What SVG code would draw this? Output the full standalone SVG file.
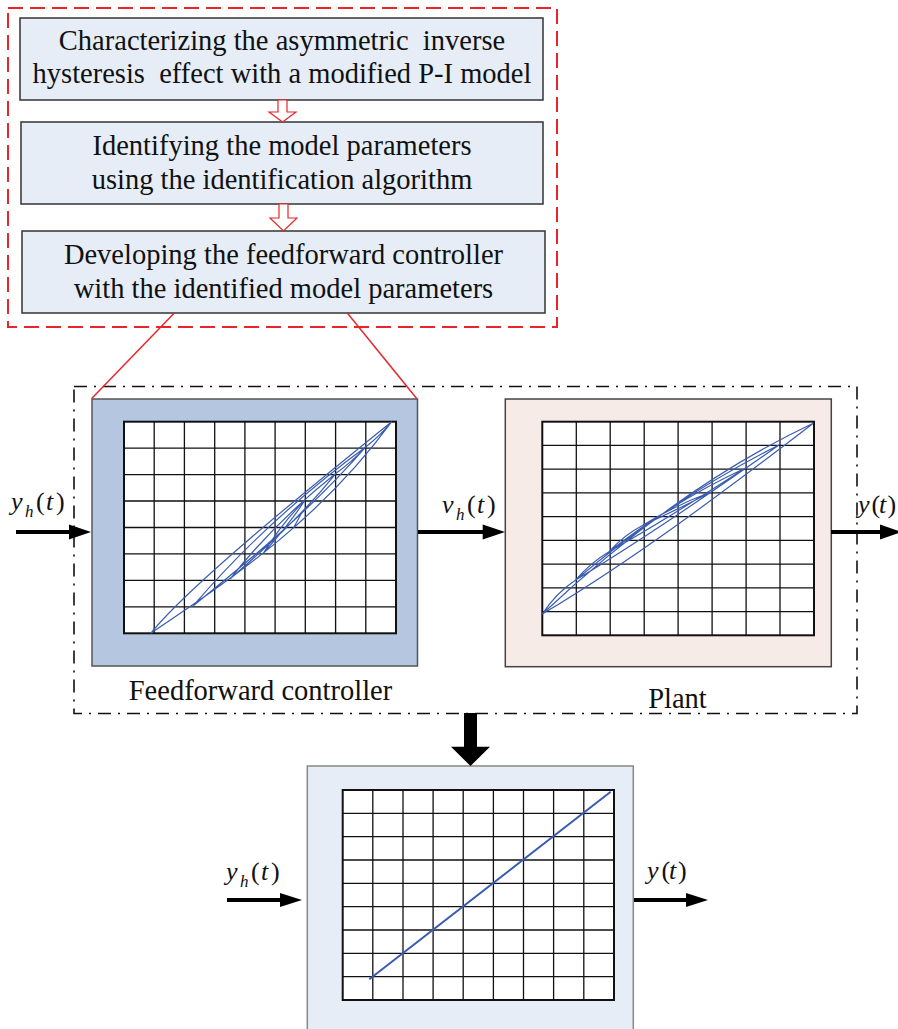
<svg xmlns="http://www.w3.org/2000/svg" width="898" height="1029" viewBox="0 0 898 1029">
<defs>
<style>
.step{fill:#e6edf6;stroke:#333;stroke-width:1.5}
.st{font-family:"Liberation Serif","Times New Roman",serif;font-size:28.5px;fill:#111;text-anchor:middle;white-space:pre}
.lbl{font-family:"Liberation Serif","Times New Roman",serif;font-size:28.5px;fill:#111}
.math{font-family:"Liberation Serif","Times New Roman",serif;font-size:26px;fill:#111}
.it{font-style:italic}
.sub{font-style:italic;font-size:17px}
.grid{fill:none;stroke:#111;stroke-width:1.3}
.gbox{fill:#fff;stroke:#111;stroke-width:2}
.hyst{fill:none;stroke:#3a5caf;stroke-width:1.2}
.hollow{fill:#fff;stroke:#e8262a;stroke-width:1.2}
.red{stroke:#e8262a;stroke-width:1.5;fill:none}
.arr{stroke:#000;stroke-width:4;fill:none}
.head{fill:#000}
</style>
</defs>
<rect width="898" height="1029" fill="#fff"/>

<!-- red dashed frame -->
<rect x="8" y="8" width="549" height="319" fill="none" stroke="#e8262a" stroke-width="2" stroke-dasharray="15 7"/>

<g id="step1">
<rect class="step" x="20" y="18" width="523" height="82"/>
<text class="st" x="282" y="50">Characterizing the asymmetric  inverse</text>
<text class="st" x="282" y="83">hysteresis  effect with a modified P-I model</text>
</g>
<g id="step2">
<rect class="step" x="21" y="122" width="522" height="82"/>
<text class="st" x="282" y="155">Identifying the model parameters</text>
<text class="st" x="282" y="189">using the identification algorithm</text>
</g>
<g id="step3">
<rect class="step" x="22" y="231" width="523" height="82"/>
<text class="st" x="283.5" y="264">Developing the feedforward controller</text>
<text class="st" x="283.5" y="298">with the identified model parameters</text>
</g>

<!-- dash-dot frame -->
<rect x="74" y="386.5" width="783" height="327" fill="none" stroke="#111" stroke-width="1.6" stroke-dasharray="13 7 2 7"/>

<g id="feedforward">
<rect x="92" y="399" width="325.5" height="267" fill="#b4c6e0" stroke="#555" stroke-width="1.5"/>
<rect class="gbox" x="124" y="421.7" width="272" height="211.6"/>
<path class="grid" d="M154.2 421.7V633.3M184.4 421.7V633.3M214.7 421.7V633.3M244.9 421.7V633.3M275.1 421.7V633.3M305.3 421.7V633.3M335.6 421.7V633.3M365.8 421.7V633.3M124 448.1H396M124 474.6H396M124 501H396M124 527.5H396M124 553.9H396M124 580.4H396M124 606.8H396"/>
<path class="hyst" d="M150.7 633.3C230 580 320 520 391.7 421.7M150.7 633.3C190 585 307 490 391.7 421.7M193.3 605.7C250.3 559.6 310.7 510.3 366 446.7M193.3 605.7C245.1 545.3 305.6 491.2 366 446.7M230 579C265 548.3 302.1 515.6 336 473.3M230 579C261.8 538.8 298.9 502.9 336 473.3M263.3 553.3C277.1 537.8 291.7 521.3 305 500M263.3 553.3C275.8 533 290.4 514.9 305 500M366 446.7Q380 436 391.7 421.7M336 473.3Q352 462 366 446.7M293.3 528.3Q298 520 302 512"/>
<text class="lbl" x="260.5" y="700" text-anchor="middle">Feedforward controller</text>
</g>

<g id="plant">
<rect x="505.3" y="399" width="326" height="267.7" fill="#f6ebe6" stroke="#444" stroke-width="1.5"/>
<rect class="gbox" x="542.3" y="421.7" width="271.7" height="213.6"/>
<path class="grid" d="M576.3 421.7V635.3M610.2 421.7V635.3M644.2 421.7V635.3M678.1 421.7V635.3M712.1 421.7V635.3M746.1 421.7V635.3M780 421.7V635.3M542.3 445.4H814M542.3 469.2H814M542.3 492.9H814M542.3 516.6H814M542.3 540.4H814M542.3 564.1H814M542.3 587.8H814M542.3 611.6H814"/>
<path class="hyst" d="M542.3 614C631.7 530.1 723.9 465.3 813.3 423.3M542.3 614C631.7 560.6 723.9 492 813.3 423.3M575.7 580C642.8 523.3 711.9 478.7 779 445M575.7 580C642.8 539.5 711.9 492.2 779 445M609 551.7C653.9 516.7 700.1 489.2 745 468.3M609 551.7C653.9 526.7 700.1 497.5 745 468.3M643.3 525C665.9 511 689.1 500 711.7 491.7M643.3 525C665.9 515 689.1 503.4 711.7 491.7M542.3 614Q556 593 575.7 580M575.7 580Q590 563 609 551.7M609 551.7Q624 535 643.3 525"/>
<text class="lbl" x="677.5" y="708.3" text-anchor="middle">Plant</text>
</g>

<g id="result">
<rect x="307.3" y="766" width="326" height="270" fill="#e6edf6" stroke="#888" stroke-width="1.5"/>
<rect class="gbox" x="342.7" y="790" width="271.3" height="210"/>
<path class="grid" d="M372.8 790V1000M403 790V1000M433.1 790V1000M463.2 790V1000M493.4 790V1000M523.5 790V1000M553.6 790V1000M583.8 790V1000M342.7 813.3H614M342.7 836.7H614M342.7 860H614M342.7 883.3H614M342.7 906.7H614M342.7 930H614M342.7 953.3H614M342.7 976.7H614"/>
<line x1="369.3" y1="979.3" x2="610.7" y2="791.7" stroke="#3a5caf" stroke-width="2"/>
</g>

<g id="connectors">
<polygon class="hollow" points="278,100 287,100 287,112 296,112 282.5,122 269,112 278,112"/>
<polygon class="hollow" points="279,204 288,204 288,218 297,218 283.5,231 270,218 279,218"/>
<line class="red" x1="174.3" y1="313" x2="91.7" y2="398.5"/>
<line class="red" x1="347.3" y1="313" x2="416.7" y2="398.5"/>
<line class="arr" x1="16" y1="532" x2="72" y2="532"/>
<polygon class="head" points="69,524.5 91,532 69,539.5"/>
<line class="arr" x1="418" y1="532" x2="485" y2="532"/>
<polygon class="head" points="482.7,524.5 505,532 482.7,539.5"/>
<line class="arr" x1="831" y1="532" x2="884" y2="532"/>
<polygon class="head" points="880,524.5 902,532 880,539.5"/>
<rect x="464" y="713" width="13" height="34" fill="#000"/>
<polygon class="head" points="451,746.7 490,746.7 470.5,766"/>
<line class="arr" x1="227" y1="900" x2="283" y2="900"/>
<polygon class="head" points="280,893 302,900 280,907"/>
<line class="arr" x1="634" y1="900" x2="689" y2="900"/>
<polygon class="head" points="686,893 708,900 686,907"/>
</g>

<g id="labels">
<text class="math" y="510.4"><tspan class="it" x="11">y</tspan><tspan class="sub" x="25" y="517">h</tspan><tspan x="36" y="510.4">(</tspan><tspan class="it" x="46">t</tspan><tspan x="56">)</tspan></text>
<text class="math" y="513.4"><tspan class="it" x="442">v</tspan><tspan class="sub" x="456" y="520">h</tspan><tspan x="467" y="513.4">(</tspan><tspan class="it" x="477">t</tspan><tspan x="487">)</tspan></text>
<text class="math" y="513"><tspan class="it" x="858">y</tspan><tspan x="871.5">(</tspan><tspan class="it" x="879">t</tspan><tspan x="887.5">)</tspan></text>
<text class="math" y="880.4"><tspan class="it" x="226">y</tspan><tspan class="sub" x="240" y="887">h</tspan><tspan x="251" y="880.4">(</tspan><tspan class="it" x="261">t</tspan><tspan x="271">)</tspan></text>
<text class="math" y="879"><tspan class="it" x="647">y</tspan><tspan x="661.5">(</tspan><tspan class="it" x="669">t</tspan><tspan x="678">)</tspan></text>
</g>
</svg>
